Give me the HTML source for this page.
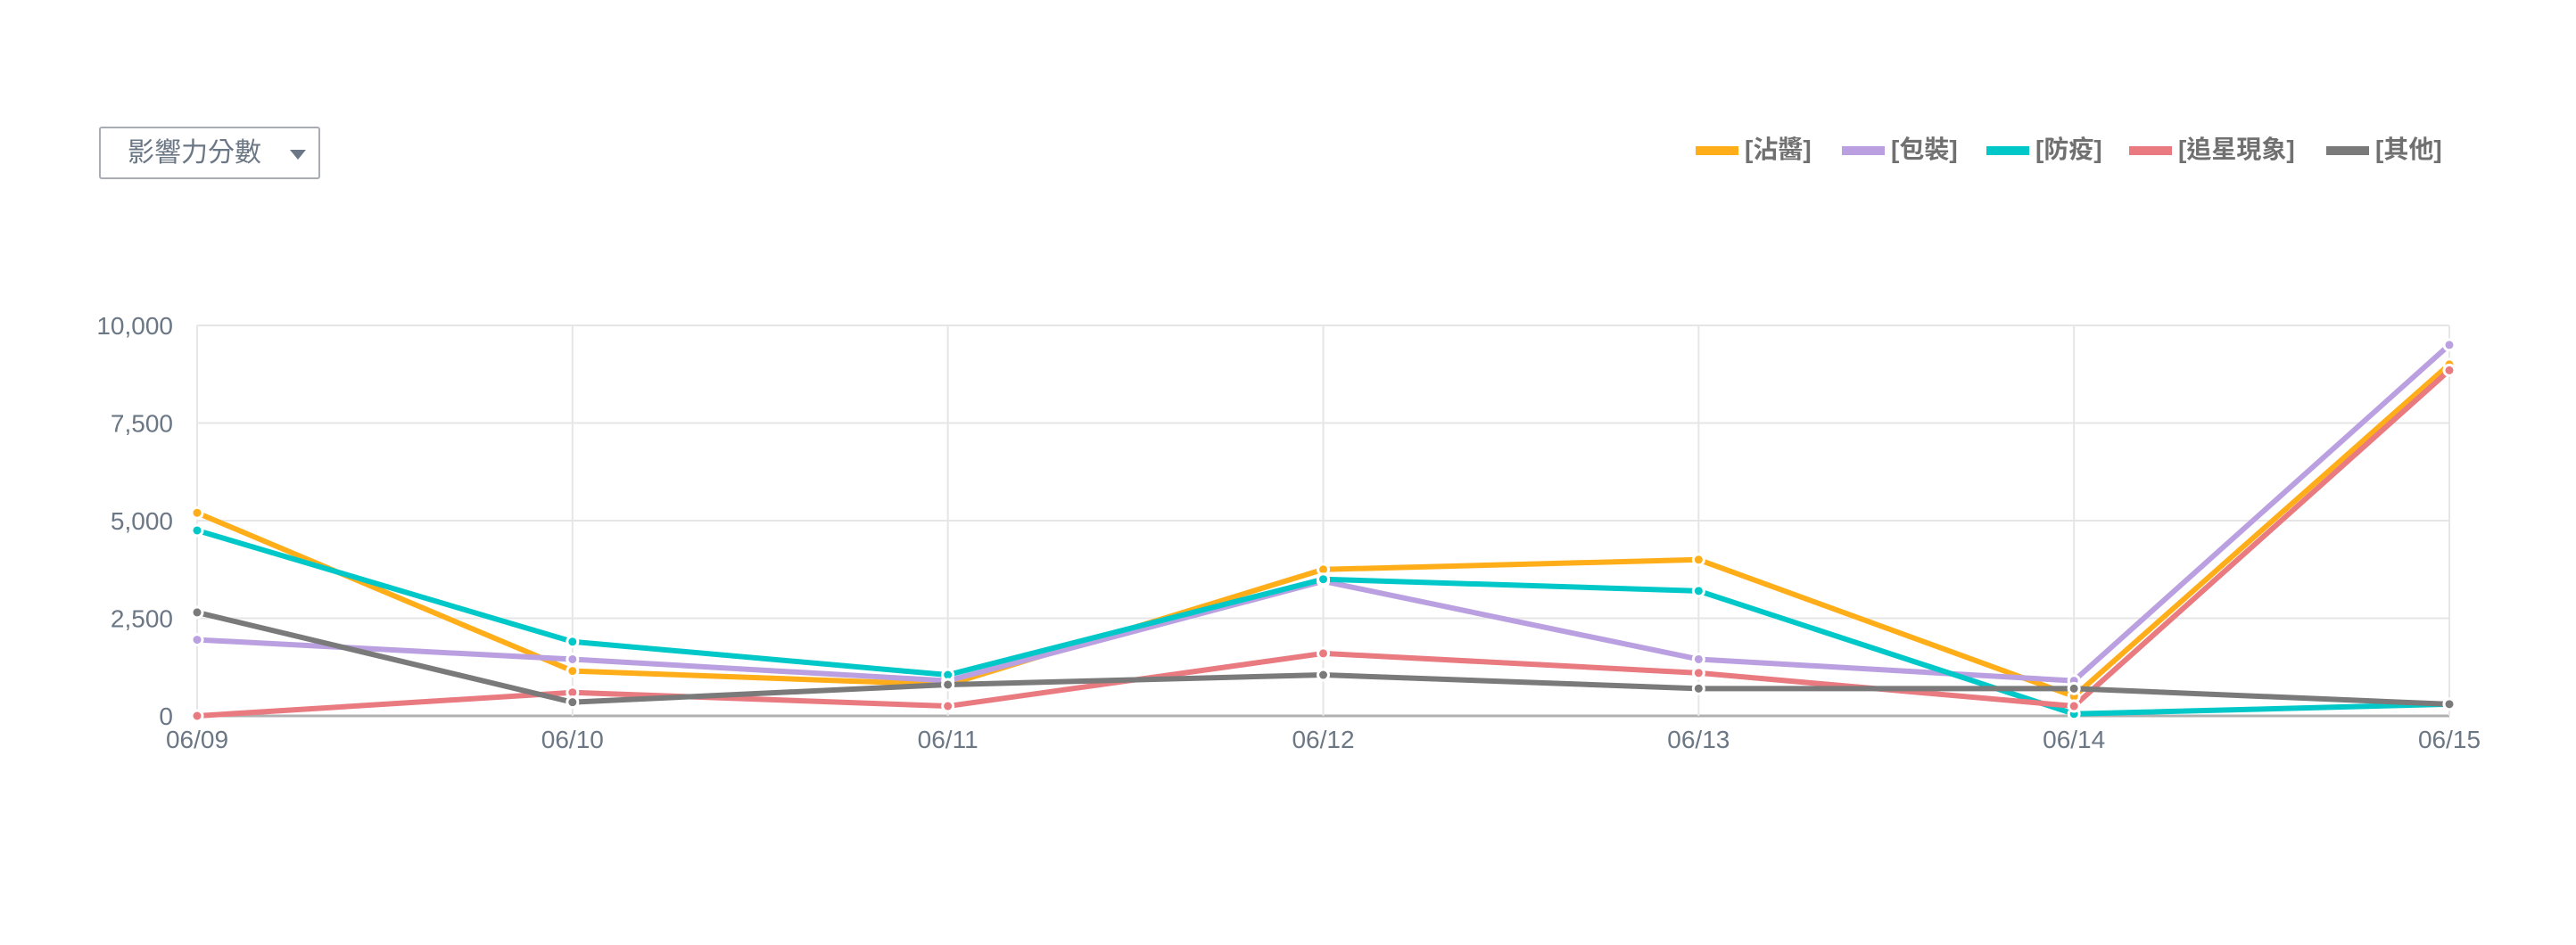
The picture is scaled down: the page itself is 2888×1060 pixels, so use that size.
<!DOCTYPE html>
<html><head><meta charset="utf-8"><style>
html,body{margin:0;padding:0;background:#fff;}
body{width:2888px;height:1060px;position:relative;overflow:hidden;font-family:"Liberation Sans","Noto Sans CJK TC",sans-serif;}
.dd{position:absolute;left:111px;top:142px;width:248px;height:59px;border:2px solid #a9adb3;border-radius:3px;box-sizing:border-box;color:#6b7785;font-size:30px;line-height:55px;}
.dd span{position:absolute;left:30px;top:0;}
.tri{position:absolute;left:212px;top:24px;width:0;height:0;border-left:9px solid transparent;border-right:9px solid transparent;border-top:11px solid #6b7785;}
.lg{position:absolute;top:150px;height:36px;font-size:28px;font-weight:bold;color:#707070;line-height:36px;}
.lg i{position:absolute;left:0;top:14px;width:48px;height:10px;}
.lg span{position:absolute;left:55px;top:0;white-space:nowrap;}
svg{position:absolute;left:0;top:0;}
</style></head><body>
<div class="dd"><span>影響力分數</span><div class="tri"></div></div>
<div class="lg" style="left:1901px"><i style="background:#ffae1a"></i><span>[沾醬]</span></div>
<div class="lg" style="left:2065px"><i style="background:#baa0e0"></i><span>[包裝]</span></div>
<div class="lg" style="left:2227px"><i style="background:#00c8c8"></i><span>[防疫]</span></div>
<div class="lg" style="left:2387px"><i style="background:#e87a80"></i><span>[追星現象]</span></div>
<div class="lg" style="left:2608px"><i style="background:#7a7a7a"></i><span>[其他]</span></div>
<svg id="chart" width="2888" height="1060"></svg>
<script>
const categories=["06/09","06/10","06/11","06/12","06/13","06/14","06/15"];
const yTicks=[0,2500,5000,7500,10000];
const yTickLabels=["0","2,500","5,000","7,500","10,000"];
const sZhanjiang=[5200,1150,800,3750,4000,500,9000];
const sPackaging=[1950,1450,900,3450,1450,900,9500];
const sEpidemic=[4750,1900,1050,3500,3200,50,300];
const sFandom=[0,600,250,1600,1100,250,8850];
const sOther=[2650,350,800,1050,700,700,300];
const seriesList=[
 {name:"zhanjiang",color:"#ffae1a",data:sZhanjiang},
 {name:"packaging",color:"#baa0e0",data:sPackaging},
 {name:"epidemic",color:"#00c8c8",data:sEpidemic},
 {name:"fandom",color:"#e87a80",data:sFandom},
 {name:"other",color:"#7a7a7a",data:sOther}];
const L=221,R=2746,T=365,B=803,YMAX=10000;
const xs=i=>L+(R-L)*i/(categories.length-1);
const ys=v=>B-(B-T)*v/YMAX;
const svg=document.getElementById('chart');
const NS="http://www.w3.org/2000/svg";
function mk(t,a){const e=document.createElementNS(NS,t);for(const k in a)e.setAttribute(k,a[k]);svg.appendChild(e);return e;}
yTicks.forEach((v,i)=>{
 const g=mk('line',{x1:L,x2:R,y1:ys(v),y2:ys(v),stroke:i==0?'#b0b0b0':'#e6e6e6','stroke-width':i==0?3:2});
 
 
 const t=mk('text',{x:194,y:ys(v)+10,'text-anchor':'end','font-size':28,fill:'#6b7785','font-family':'Liberation Sans, sans-serif'});
 t.textContent=yTickLabels[i];
 
 
});
categories.forEach((c,i)=>{
 const g=mk('line',{x1:xs(i),x2:xs(i),y1:T,y2:B,stroke:'#e6e6e6','stroke-width':2});
 
 
 const t=mk('text',{x:xs(i),y:839,'text-anchor':'middle','font-size':28,fill:'#6b7785','font-family':'Liberation Sans, sans-serif'});
 t.textContent=c;
 
 
});
seriesList.forEach(s=>{
 const p=mk('polyline',{points:s.data.map((v,i)=>xs(i)+','+ys(v)).join(' '),fill:'none',stroke:s.color,'stroke-width':6,'stroke-linejoin':'round'});
 
 
});
seriesList.forEach(s=>{
 s.data.forEach((v,i)=>{
  const c=mk('circle',{cx:xs(i),cy:ys(v),r:6,fill:s.color,stroke:'#fff','stroke-width':3});
  
  
 });
});
</script>
</body></html>
